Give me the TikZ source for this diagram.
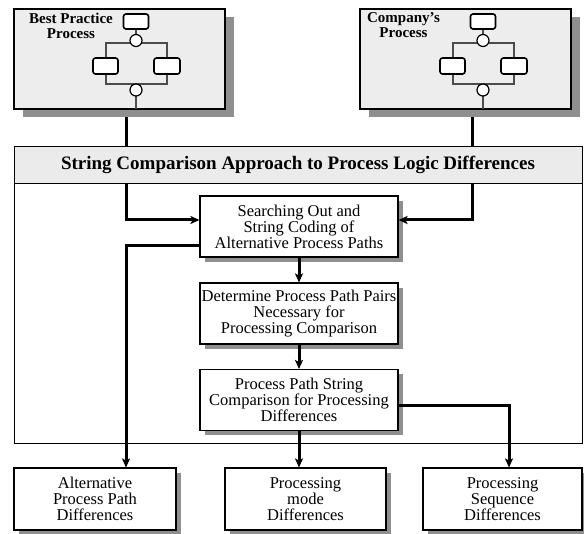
\documentclass[tikz,border=0pt]{standalone}
\usepackage{fontspec}
\setmainfont{Liberation Serif}
\usetikzlibrary{arrows.meta,shadows}
\tikzset{
  procbox/.style={draw=black, line width=1.1pt, fill=white, minimum width=198pt, minimum height=61pt,
    inner sep=0pt, align=center, font=\fontsize{16.5}{16}\selectfont,
    drop shadow={shadow xshift=5pt, shadow yshift=-5pt, fill=black!44, opacity=1}},
  resbox/.style={procbox, minimum height=62pt},
  topbox/.style={draw=black, line width=1.3pt, fill=black!7, minimum width=211pt, minimum height=100pt,
    inner sep=0pt, drop shadow={shadow xshift=9pt, shadow yshift=-8pt, fill=black!44, opacity=1}},
  toptitle/.style={font=\bfseries\fontsize{15}{15}\selectfont, align=center, inner sep=0pt, anchor=north},
  conn/.style={line width=3pt, -{Stealth[length=9pt,width=8pt,inset=2pt]}},
  icl/.style={draw=black!70, line width=1.2pt},
  icr/.style={draw=black, fill=white, line width=1.6pt, rounded corners=2.5pt},
  icc/.style={draw=black, fill=white, line width=1.2pt},
}
\newcommand\procicon[1]{%
  \begin{scope}[shift={(#1,0)}]
    \draw[icl] (136,29) -- (136,35);
    \draw[icl] (106,58) -- (106,43) -- (167,43) -- (167,58);
    \draw[icl] (106,74) -- (106,84) -- (167,84) -- (167,74);
    \draw[icl] (136,96) -- (136,109);
    \draw[icr] (123.5,14) rectangle (148.5,29);
    \draw[icr] (93,58) rectangle (118,74);
    \draw[icr] (154,58) rectangle (180,74);
    \draw[icc] (136,40.5) circle[radius=6];
    \draw[icc] (136,90) circle[radius=6];
  \end{scope}}
\begin{document}
\begin{tikzpicture}[x=1pt,y=-1pt]
\useasboundingbox (0,0) rectangle (584,534);
% top process boxes
\node[topbox] (bp) at (119.5,59) {};
\node[topbox] (cp) at (465.5,59) {};
\procicon{0}
\procicon{347}
\node[toptitle] (bpt) at (71,12.5) {Best Practice\\Process};
\node[toptitle] (cpt) at (403.5,12.5) {Company's\\Process};
% frame
\node[draw=black, line width=0.9pt, minimum width=568pt, minimum height=297pt, inner sep=0pt] (frame) at (298,294.5) {};
% process boxes
\node[procbox] (box1) at (299,226.5) {Searching Out and\\String Coding of\\Alternative Process Paths};
\node[procbox] (box2) at (299,313.5) {Determine Process Path Pairs\\Necessary for\\Processing Comparison};
\node[procbox] (box3) at (299,400) {Process Path String\\Comparison for Processing\\Differences};
% result boxes
\node[resbox, minimum width=162pt] (lowl) at (95,499) {Alternative\\Process Path\\Differences};
\node[resbox, minimum width=161pt] (lowm) at (305.5,499) {Processing\\mode\\Differences};
\node[resbox, minimum width=159pt] (lowr) at (502.5,499) {Processing\\Sequence\\Differences};
% connectors
\coordinate (bpout) at (126,117);
\coordinate (cpout) at (472,117);
\coordinate (lk) at (126,246);
\coordinate (rk) at (509,406);
\draw[conn] (bpout) |- ([yshift=6.5pt]box1.west);
\draw[conn] (cpout) |- ([yshift=6.5pt]box1.east);
\draw[conn] (box1.west |- lk) -- (lk) -- (lk |- lowl.north);
\draw[conn] (box1.south) -- (box2.north);
\draw[conn] (box2.south) -- (box3.north);
\draw[conn] (box3.south) -- (box3.south |- lowm.north);
\draw[conn] (box3.east |- rk) -- (rk) -- (rk |- lowr.north);
% banner
\node[draw=black, line width=0.9pt, fill=black!8, minimum width=568pt, minimum height=37pt, inner sep=0pt,
  font=\bfseries\fontsize{19}{19}\selectfont] (banner) at (298,164.5) {String Comparison Approach to Process Logic Differences};
\end{tikzpicture}
\end{document}
